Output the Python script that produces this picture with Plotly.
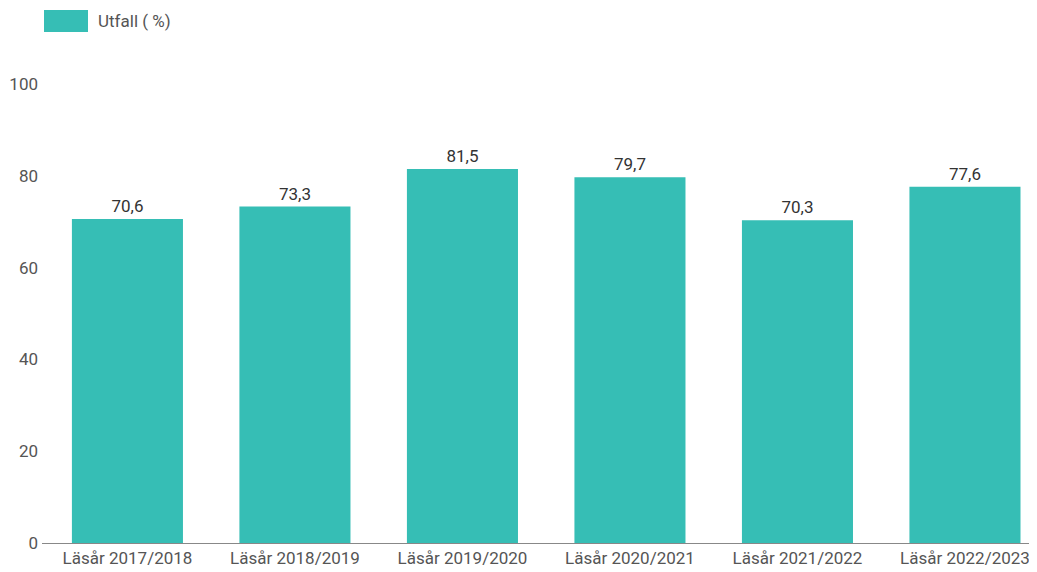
import plotly.graph_objects as go

categories = ["Läsår 2017/2018", "Läsår 2018/2019", "Läsår 2019/2020",
              "Läsår 2020/2021", "Läsår 2021/2022", "Läsår 2022/2023"]
values = [70.6, 73.3, 81.5, 79.7, 70.3, 77.6]
series_name = "Utfall ( %)"
y_ticks = [0, 20, 40, 60, 80, 100]

teal = "#36BEB5"

# plot area in figure pixels
L, T, W, H = 34, 76, 995, 459
B = T + H

fig = go.Figure()
fig.add_trace(go.Bar(
    x=categories, y=values, name=series_name,
    marker=dict(color=teal, line=dict(width=0)),
    text=values, texttemplate="%{y:.1f}", textposition="outside",
    textfont=dict(family="Roboto", size=17, color="#333333"),
    cliponaxis=False, showlegend=False,
))

fig.update_layout(
    width=1029, height=564,
    margin=dict(l=L, r=1029 - L - W, t=T, b=564 - B),
    paper_bgcolor="white", plot_bgcolor="white",
    separators=", ",
    bargap=0.337,
    font=dict(family="Roboto", size=17, color="#555555"),
    xaxis=dict(range=[-0.51, 5.43], showgrid=False, showline=True,
               linecolor="#888888", linewidth=1, ticks="",
               tickfont=dict(family="Roboto", size=17, color="#555555")),
    yaxis=dict(range=[0, 100], tickvals=y_ticks, showgrid=False,
               zeroline=False, showline=False, ticks="",
               ticklabelstandoff=3,
               tickfont=dict(family="Roboto", size=17, color="#555555")),
    shapes=[dict(type="rect", xref="paper", yref="paper",
                 x0=(36 - L) / W, x1=(80 - L) / W,
                 y0=(B - 24) / H, y1=(B - 2) / H,
                 fillcolor=teal, line=dict(width=0))],
    annotations=[dict(text=series_name, xref="paper", yref="paper",
                      x=(88 - L) / W, y=(B - 13) / H,
                      xanchor="left", yanchor="middle", showarrow=False,
                      font=dict(family="Roboto", size=17, color="#555555"))],
)

fig.write_html("out.html")
